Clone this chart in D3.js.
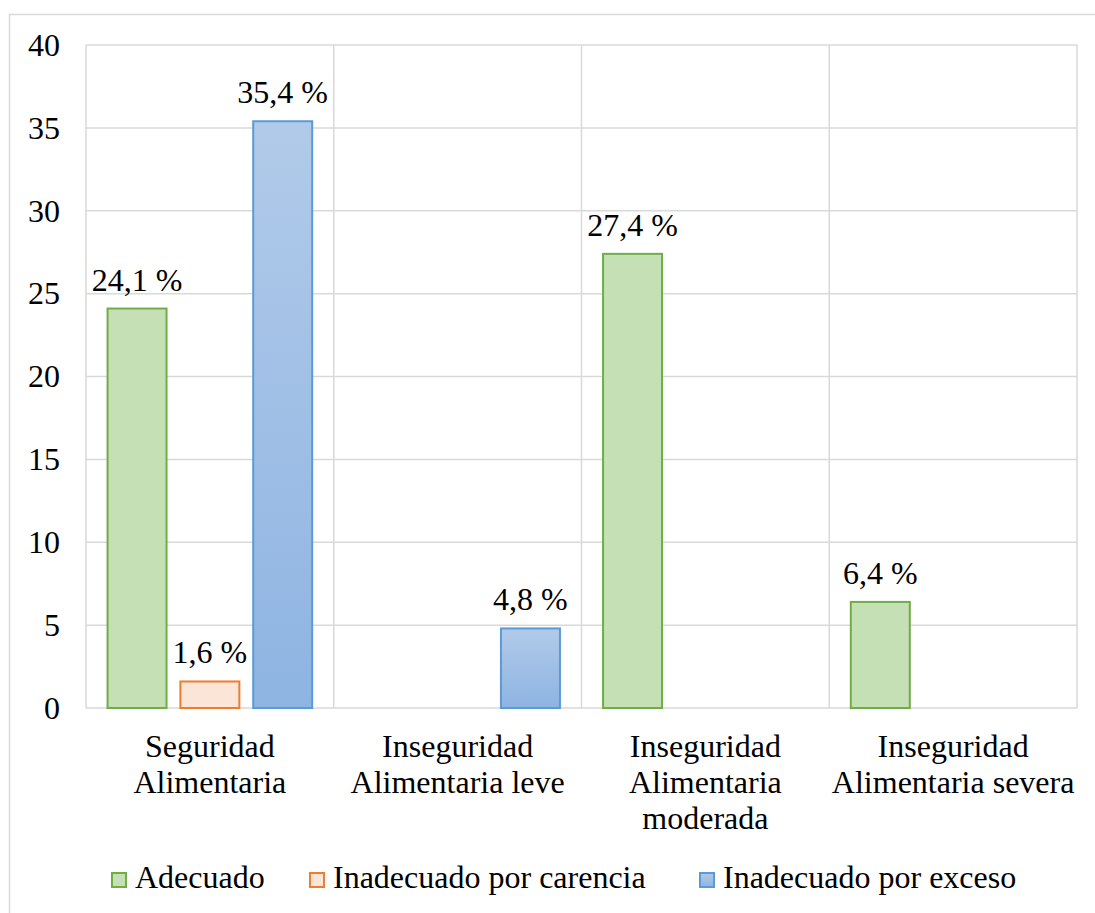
<!DOCTYPE html>
<html>
<head>
<meta charset="utf-8">
<script src="https://cdn.jsdelivr.net/npm/d3@7"></script>
<style>
  html, body { margin: 0; padding: 0; background: #fff; }
  svg text { font-family: "Times New Roman", "Liberation Serif", "DejaVu Serif", serif; }
</style>
</head>
<body>
<svg id="chart" width="1095" height="913"></svg>
<script>
// Food security category vs. nutritional status (%)
const categories = [
  ["Seguridad", "Alimentaria"],
  ["Inseguridad", "Alimentaria leve"],
  ["Inseguridad", "Alimentaria", "moderada"],
  ["Inseguridad", "Alimentaria severa"]
];
const seriesNames = ["Adecuado", "Inadecuado por carencia", "Inadecuado por exceso"];
const adecuado  = [24.1, null, 27.4, 6.4];
const carencia  = [1.6, null, null, null];
const exceso    = [35.4, 4.8, null, null];
const yTicks = [0, 5, 10, 15, 20, 25, 30, 35, 40];

const seriesValues = [adecuado, carencia, exceso];
const fills   = ["#c5e0b4", "#fbe5d6", "url(#blueGrad)"];
const strokes = ["#70ad47", "#ed7d31", "#5b9bd5"];
const FONT = "'Times New Roman', 'Liberation Serif', 'DejaVu Serif', serif";

const svg = d3.select("#chart");
const margin = { left: 86, right: 1077, top: 45, bottom: 708 };

// Chart border
svg.append("rect")
  .attr("x", 9.5).attr("y", 14.5)
  .attr("width", 1100).attr("height", 920)
  .attr("fill", "none").attr("stroke", "#d9d9d9").attr("stroke-width", 1.5);

const defs = svg.append("defs");
const grad = defs.append("linearGradient")
  .attr("id", "blueGrad").attr("x1", 0).attr("y1", 0).attr("x2", 0).attr("y2", 1);
grad.append("stop").attr("offset", "0%").attr("stop-color", "#b1cae9");
grad.append("stop").attr("offset", "100%").attr("stop-color", "#8eb4e2");

const x0 = d3.scaleBand()
  .domain(d3.range(categories.length))
  .range([margin.left, margin.right])
  .paddingInner(0).paddingOuter(0);

const inset = x0.bandwidth() * 0.087;
const x1 = d3.scaleBand()
  .domain(d3.range(seriesNames.length))
  .range([inset, x0.bandwidth() - inset])
  .paddingInner(0.19).paddingOuter(0);

const y = d3.scaleLinear().domain([0, 40]).range([margin.bottom, margin.top]);

// Horizontal gridlines
svg.append("g").selectAll("line")
  .data(yTicks)
  .join("line")
  .attr("x1", margin.left).attr("x2", margin.right)
  .attr("y1", d => y(d)).attr("y2", d => y(d))
  .attr("stroke", "#d9d9d9").attr("stroke-width", 1.5);

// Vertical gridlines at category boundaries
const bounds = d3.range(categories.length + 1).map(i =>
  i < categories.length ? x0(i) : x0(i - 1) + x0.bandwidth());
svg.append("g").selectAll("line")
  .data(bounds)
  .join("line")
  .attr("x1", d => d).attr("x2", d => d)
  .attr("y1", margin.top).attr("y2", margin.bottom)
  .attr("stroke", "#d9d9d9").attr("stroke-width", 1.5);

// Y axis labels
const yAxis = svg.append("g")
  .attr("transform", `translate(${margin.left - 26},0)`)
  .call(d3.axisLeft(y).tickValues(yTicks).tickSize(0).tickPadding(0).tickFormat(d3.format("d")));
yAxis.attr("font-family", null).attr("font-size", null);
yAxis.select(".domain").remove();
yAxis.selectAll("text")
  .style("font-family", FONT)
  .style("font-size", "32px")
  .attr("fill", "#000");

// Bars
const barData = [];
categories.forEach((c, ci) => {
  seriesValues.forEach((vals, si) => {
    if (vals[ci] != null) barData.push({ ci, si, v: vals[ci] });
  });
});

svg.append("g").selectAll("rect")
  .data(barData)
  .join("rect")
  .attr("x", d => x0(d.ci) + x1(d.si))
  .attr("y", d => y(d.v))
  .attr("width", x1.bandwidth())
  .attr("height", d => y(0) - y(d.v))
  .attr("fill", d => fills[d.si])
  .attr("stroke", d => strokes[d.si])
  .attr("stroke-width", 2);

// Value labels
const fmt = v => d3.format(".1f")(v).replace(".", ",") + " %";
svg.append("g").selectAll("text")
  .data(barData)
  .join("text")
  .attr("x", d => x0(d.ci) + x1(d.si) + x1.bandwidth() / 2)
  .attr("y", d => y(d.v) - 18)
  .attr("text-anchor", "middle")
  .style("font-family", FONT)
  .style("font-size", "32px")
  .attr("fill", "#000")
  .text(d => fmt(d.v));

// Category labels
const catG = svg.append("g").selectAll("text")
  .data(categories)
  .join("text")
  .attr("text-anchor", "middle")
  .style("font-family", FONT)
  .style("font-size", "32px")
  .attr("fill", "#000");
catG.selectAll("tspan")
  .data((d, i) => d.map((line, j) => ({ line, j, i })))
  .join("tspan")
  .attr("x", d => x0(d.i) + x0.bandwidth() / 2)
  .attr("y", d => 757 + d.j * 36)
  .text(d => d.line);

// Legend
const legendX = [111, 309, 699];
const leg = svg.append("g").selectAll("g")
  .data(seriesNames)
  .join("g")
  .attr("transform", (d, i) => `translate(${legendX[i]},872)`);
leg.append("rect")
  .attr("x", 1).attr("y", 1)
  .attr("width", 14).attr("height", 14)
  .attr("fill", (d, i) => fills[i])
  .attr("stroke", (d, i) => strokes[i])
  .attr("stroke-width", 2);
leg.append("text")
  .attr("x", 24).attr("y", 16)
  .style("font-family", FONT)
  .style("font-size", "32px")
  .attr("fill", "#000")
  .text(d => d);
</script>
</body>
</html>
